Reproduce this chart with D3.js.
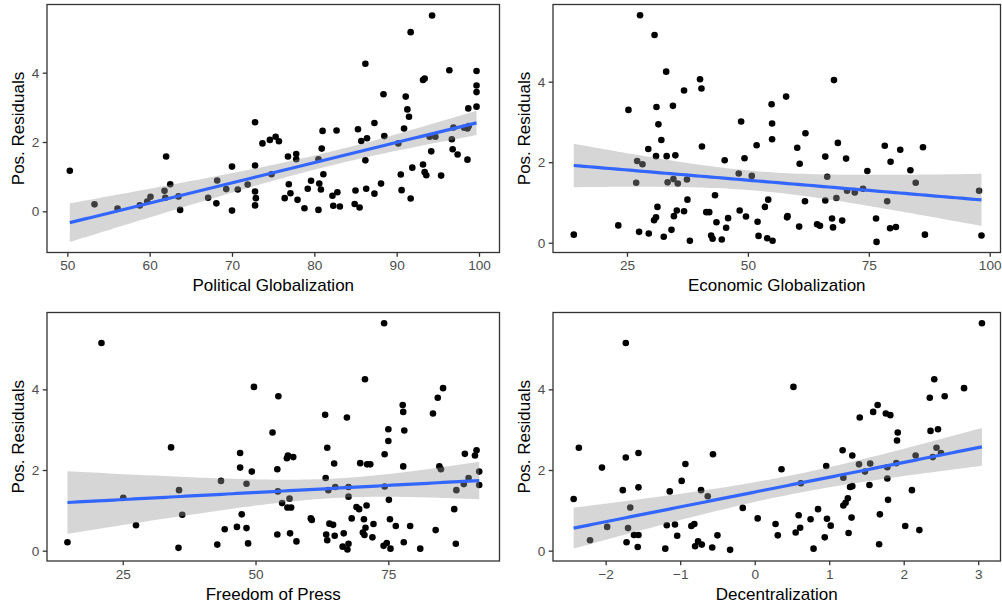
<!DOCTYPE html>
<html><head><meta charset="utf-8">
<script src="https://cdn.jsdelivr.net/npm/d3@7"></script>
<style>body{margin:0;background:#fff}svg{display:block}text{font-family:"Liberation Sans",Arial,sans-serif}</style>
</head><body>
<svg id="c" width="1002" height="606"></svg>
<script>
// ---- data ----
const politicalX=[50.3,53.3,56.1,58.8,59.7,60.1,61.8,61.9,62.0,62.5,63.5,63.7,67.1,68.2,68.1,69.3,70.0,70.0,70.7,71.9,72.8,72.8,72.8,72.9,72.8,73.7,74.6,74.8,75.3,75.7,76.8,77.8,77.8,76.9,77.1,76.4,77.96,78.8,79.2,79.6,80.5,80.6,80.8,80.5,80.9,81.0,81.1,82.2,82.8,82.3,83.1,82.7,85.0,84.9,85.5,85.3,85.7,86.4,86.2,86.2,86.3,87.3,87.3,88.1,88.4,88.5,90.2,90.5,90.6,90.9,91.1,91.3,91.5,91.7,91.7,91.9,93.2,93.4,93.6,93.2,93.4,94.2,94.3,94.0,94.7,95.4,96.4,96.7,96.8,96.9,97.4,98.2,98.6,98.75,98.7,98.6,99.7,99.7,99.7,99.7];
const politicalY=[1.17,0.20,0.08,0.17,0.28,0.42,0.59,0.39,1.58,0.78,0.43,0.04,0.39,0.89,0.23,0.64,1.29,0.02,0.63,0.77,2.57,1.32,0.57,0.38,0.17,1.96,2.06,1.07,2.15,2.02,1.58,1.65,1.50,0.78,0.52,0.38,0.33,0.09,0.65,0.88,0.04,0.80,0.63,1.50,1.81,2.32,1.07,0.45,0.55,0.16,0.14,2.33,0.60,0.21,0.11,2.37,2.03,2.11,4.26,1.47,0.65,0.51,2.55,0.80,3.38,2.17,1.96,1.06,0.61,2.39,3.31,2.94,2.73,5.17,0.37,1.26,1.35,1.13,1.04,3.79,3.83,1.73,5.65,2.15,2.15,1.03,4.07,2.08,1.79,2.42,1.64,2.41,2.39,2.46,2.97,1.49,4.05,3.63,3.44,3.02];

const economicX=[14.0,23.2,25.3,26.9,27.1,28.2,27.5,27.7,29.5,29.4,30.7,30.6,31.0,31.0,31.1,31.3,31.5,32.1,32.6,33.1,33.2,33.4,34.2,34.5,34.6,34.7,35.0,35.3,35.5,36.8,36.8,37.4,37.5,38.0,40.1,40.4,40.5,41.4,42.0,42.4,42.7,43.2,43.5,44.6,45.2,45.5,45.9,48.1,48.3,48.6,49.3,49.6,50.8,51.8,52.0,52.2,54.2,53.5,54.0,55.1,54.9,55.0,55.0,57.9,58.1,58.2,60.2,60.6,60.7,61.8,61.9,64.3,64.9,66.0,66.0,66.4,67.4,67.6,67.8,68.3,68.6,69.5,70.3,70.5,72.1,73.8,74.7,76.5,76.6,78.3,78.8,79.4,79.5,80.6,81.5,83.6,84.7,86.2,86.6,97.8,98.3];
const economicY=[0.20,0.43,3.30,1.49,2.03,1.95,0.27,5.65,0.23,2.33,5.16,0.56,0.63,2.15,3.37,0.89,2.94,2.55,0.15,4.25,2.15,1.50,0.32,3.40,1.58,0.66,2.17,0.80,1.47,0.78,3.78,1.57,1.07,0.05,4.06,3.83,2.39,0.76,0.76,0.18,0.10,1.18,0.51,0.08,2.05,0.37,0.61,1.72,0.80,3.01,2.10,0.65,1.66,2.42,0.52,0.17,1.07,0.89,0.11,0.05,3.44,2.96,2.57,3.63,0.63,0.66,2.36,0.40,1.96,1.03,2.72,0.46,0.42,2.14,1.05,1.64,0.60,0.38,4.04,1.11,2.48,0.55,2.09,1.29,1.25,1.34,1.78,0.60,0.02,2.41,1.03,0.36,2.01,0.39,2.31,1.80,1.49,2.37,0.20,1.29,0.18];

const pressX=[14.6,21.0,25.1,27.5,34.1,35.6,35.5,36.2,42.8,43.5,44.2,46.5,47.1,47.1,47.4,48.3,48.3,48.6,49.3,49.7,53.2,54.3,54.1,54.2,54.1,55.0,55.9,56.1,57.1,56.4,56.0,56.7,56.5,57.7,60.4,60.6,63.1,63.5,63.2,63.7,63.9,64.6,63.3,63.5,64.8,65.0,64.9,66.6,66.4,67.2,67.5,67.5,67.5,67.3,68.1,69.0,69.5,69.7,70.4,70.9,70.6,71.0,71.6,70.7,70.2,70.5,72.2,72.0,74.2,74.3,74.3,75.0,75.0,75.1,75.3,74.1,74.7,75.4,76.4,77.7,77.8,78.0,77.8,77.9,79.1,81.0,83.4,84.3,85.3,84.6,84.9,83.9,87.4,87.8,87.7,89.2,89.4,90.1,91.3,91.6,92.1,92.1];
const pressY=[0.21,5.15,1.31,0.63,2.56,1.50,0.07,0.89,0.15,1.73,0.53,0.59,2.42,2.06,0.90,1.66,0.56,0.18,1.96,4.06,2.93,3.83,2.02,1.47,0.40,1.18,2.29,2.36,2.32,1.29,1.07,1.07,0.43,0.23,0.80,0.76,3.37,2.55,1.80,1.50,0.67,0.64,0.40,0.26,2.16,1.58,0.37,0.43,0.10,3.30,1.58,1.34,0.17,0.03,0.80,1.08,1.03,2.17,0.78,1.12,4.25,2.14,2.14,0.57,0.45,0.39,0.66,0.33,5.64,2.39,1.59,3.01,2.72,1.26,0.78,0.12,0.19,0.05,0.61,3.61,3.44,2.98,2.09,0.21,0.61,0.05,3.40,3.79,4.03,2.09,2.02,0.51,1.03,1.50,0.17,1.65,2.40,1.80,2.36,2.49,1.96,1.63];

const decentX=[-2.43,-2.36,-2.21,-2.05,-1.98,-1.77,-1.73,-1.73,-1.72,-1.70,-1.67,-1.62,-1.56,-1.56,-1.56,-1.57,-1.20,-1.18,-1.14,-1.07,-1.04,-0.98,-0.93,-0.85,-0.81,-0.80,-0.76,-0.72,-0.71,-0.63,-0.57,-0.56,-0.50,-0.33,-0.16,0.04,0.28,0.31,0.36,0.52,0.59,0.61,0.55,0.62,0.75,0.79,0.85,0.94,0.96,0.97,1.02,1.18,1.19,1.19,1.22,1.25,1.26,1.28,1.31,1.31,1.30,1.40,1.41,1.48,1.54,1.55,1.59,1.65,1.67,1.68,1.76,1.82,1.78,1.78,1.79,1.90,1.91,1.92,2.02,2.11,2.16,2.21,2.35,2.36,2.39,2.41,2.44,2.46,2.50,2.55,2.81,3.05];
const decentY=[1.28,2.55,0.26,2.06,0.59,1.50,5.15,2.31,0.21,0.56,1.07,0.39,0.39,2.42,1.57,0.09,0.05,0.63,1.47,0.65,0.37,1.73,2.15,0.61,0.66,0.11,0.23,1.50,0.15,1.35,0.08,2.39,0.38,0.02,1.06,0.80,0.66,0.38,2.02,4.06,0.88,0.57,0.45,1.67,0.78,0.05,1.03,0.33,2.10,0.79,0.62,2.49,1.81,1.12,1.19,1.30,0.44,1.58,1.60,2.36,0.82,2.14,3.30,1.96,1.63,2.16,3.44,3.61,0.16,0.90,3.40,3.36,2.07,1.79,1.26,2.17,2.73,2.93,0.61,1.50,2.36,0.51,3.79,2.97,2.32,4.25,2.55,3.01,2.42,3.83,4.03,5.64];

const xTitles=["Political Globalization","Economic Globalization","Freedom of Press","Decentralization"];
const yTitle="Pos. Residuals";
const xTicks=[[50,60,70,80,90,100],[25,50,75,100],[25,50,75],[-2,-1,0,1,2,3]];
const yTicks=[0,2,4];
const xDomains=[[47.53,102.49],[9.70,102.23],[10.75,95.92],[-2.707,3.299]];
const yDomains=[[-1.189,5.968],[-0.243,5.918],[-0.256,5.905],[-0.256,5.905]];

// ---- layout ----
const panels=[
 {x:politicalX,y:politicalY,l:47,r:499.5,t:4.5,b:252.5},
 {x:economicX,y:economicY,l:553,r:1000.5,t:4.5,b:252.5},
 {x:pressX,y:pressY,l:47,r:499.5,t:312.5,b:561},
 {x:decentX,y:decentY,l:553,r:1000.5,t:312.5,b:561}
];

function tq(df){const z=1.959964;return z+(z*z*z+z)/(4*df)+(5*Math.pow(z,5)+16*z*z*z+3*z)/(96*df*df);}
const fmt=d=>d<0?"\u2212"+Math.abs(d):String(d);

const svg=d3.select("#c");
panels.forEach((p,i)=>{
  const xs=d3.scaleLinear().domain(xDomains[i]).range([p.l,p.r]);
  const ys=d3.scaleLinear().domain(yDomains[i]).range([p.b,p.t]);
  const g=svg.append("g");
  const pts=p.x.map((v,k)=>[v,p.y[k]]);
  g.selectAll("circle").data(pts).join("circle")
    .attr("cx",d=>xs(d[0])).attr("cy",d=>ys(d[1])).attr("r",3.3).attr("fill","#000");
  // linear fit with 95% CI (as geom_smooth(method="lm"))
  const n=pts.length,mx=d3.mean(p.x),my=d3.mean(p.y);
  let sxx=0,sxy=0;pts.forEach(d=>{sxx+=(d[0]-mx)**2;sxy+=(d[0]-mx)*(d[1]-my);});
  const b=sxy/sxx,a=my-b*mx;
  let sse=0;pts.forEach(d=>{sse+=(d[1]-a-b*d[0])**2;});
  const s=Math.sqrt(sse/(n-2)),t=tq(n-2);
  const [x0,x1]=d3.extent(p.x);
  const grid=d3.range(0,81).map(j=>x0+(x1-x0)*j/80);
  const band=grid.map(x=>{const f=a+b*x,se=s*Math.sqrt(1/n+(x-mx)**2/sxx);return {x,f,lo:f-t*se,hi:f+t*se};});
  g.append("path").datum(band)
    .attr("d",d3.area().x(d=>xs(d.x)).y0(d=>ys(d.lo)).y1(d=>ys(d.hi)))
    .attr("fill","#999999").attr("fill-opacity",0.4);
  g.append("path").datum(band)
    .attr("d",d3.line().x(d=>xs(d.x)).y(d=>ys(d.f)))
    .attr("fill","none").attr("stroke","#3366FF").attr("stroke-width",3.2);
  // border
  g.append("rect").attr("x",p.l).attr("y",p.t).attr("width",p.r-p.l).attr("height",p.b-p.t)
    .attr("fill","none").attr("stroke","#333333").attr("stroke-width",1.3);
  // axes
  const xa=g.append("g").attr("transform",`translate(0,${p.b})`)
    .call(d3.axisBottom(xs).tickValues(xTicks[i]).tickSize(4.3).tickPadding(4).tickFormat(fmt));
  const ya=g.append("g").attr("transform",`translate(${p.l},0)`)
    .call(d3.axisLeft(ys).tickValues(yTicks).tickSize(4.3).tickPadding(3.5).tickFormat(fmt));
  [xa,ya].forEach(ax=>{
    ax.select(".domain").remove();
    ax.selectAll("line").attr("stroke","#333333").attr("stroke-width",1.3);
    ax.selectAll("text").attr("fill","#4D4D4D").style("font-size","13.6px").style("font-family","'Liberation Sans',Arial,sans-serif");
  });
  g.append("text").attr("x",(p.l+p.r)/2).attr("y",p.b+38.5).attr("text-anchor","middle")
    .style("font-size","17px").attr("fill","#000").text(xTitles[i]);
  g.append("text").attr("transform",`translate(${p.l-23},${(p.t+p.b)/2}) rotate(-90)`)
    .attr("text-anchor","middle").style("font-size","17px").attr("fill","#000").text(yTitle);
});
</script>
</body></html>
